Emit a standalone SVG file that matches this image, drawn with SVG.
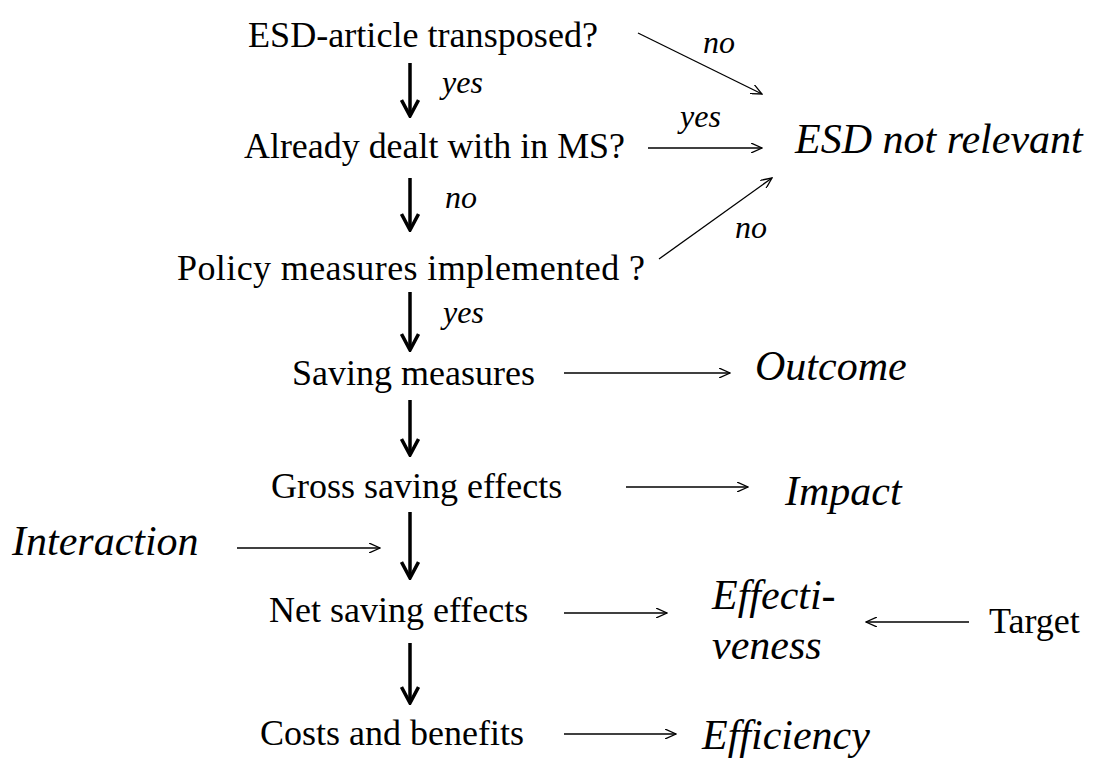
<svg xmlns="http://www.w3.org/2000/svg" width="1095" height="758" viewBox="0 0 1095 758">
<defs>
<style>
.t{font-family:"Liberation Serif","Times New Roman",serif;font-size:36px;fill:#000}
.l{font-family:"Liberation Serif","Times New Roman",serif;font-size:32px;font-style:italic;fill:#000}
.b{font-family:"Liberation Serif","Times New Roman",serif;font-size:42px;font-style:italic;fill:#000}
.thick{stroke:#000;stroke-width:3.5;fill:none}
.thin{stroke:#000;stroke-width:1.3;fill:none}
</style>
<marker id="open" viewBox="0 0 12 10" refX="11" refY="5" markerWidth="12" markerHeight="10" markerUnits="userSpaceOnUse" orient="auto">
<path d="M0,0 L11,5 L0,10" fill="none" stroke="#000" stroke-width="1.3"/>
</marker>
<marker id="bold" viewBox="0 0 20 22" refX="10" refY="20" markerWidth="20" markerHeight="22" markerUnits="userSpaceOnUse" orient="0">
<path d="M1.5,4 L10,20 L18.5,4" fill="none" stroke="#000" stroke-width="3.5" stroke-linejoin="miter"/>
</marker>
</defs>
<g id="connectors">
<line class="thick" x1="410" y1="63" x2="410" y2="116" marker-end="url(#bold)"/>
<line class="thick" x1="410" y1="178" x2="410" y2="230" marker-end="url(#bold)"/>
<line class="thick" x1="410" y1="292" x2="410" y2="350" marker-end="url(#bold)"/>
<line class="thick" x1="410" y1="400" x2="410" y2="455" marker-end="url(#bold)"/>
<line class="thick" x1="410" y1="512" x2="410" y2="578" marker-end="url(#bold)"/>
<line class="thick" x1="410" y1="643" x2="410" y2="703" marker-end="url(#bold)"/>
<line class="thin" x1="638" y1="33" x2="762" y2="94" marker-end="url(#open)"/>
<line class="thin" x1="648" y1="148" x2="762" y2="148" marker-end="url(#open)"/>
<line class="thin" x1="659" y1="259" x2="772" y2="178" marker-end="url(#open)"/>
<line class="thin" x1="564" y1="373" x2="730" y2="373" marker-end="url(#open)"/>
<line class="thin" x1="626" y1="487" x2="748" y2="487" marker-end="url(#open)"/>
<line class="thin" x1="237" y1="548" x2="380" y2="548" marker-end="url(#open)"/>
<line class="thin" x1="564" y1="613" x2="667" y2="613" marker-end="url(#open)"/>
<line class="thin" x1="969" y1="622" x2="866" y2="622" marker-end="url(#open)"/>
<line class="thin" x1="564" y1="734" x2="676" y2="734" marker-end="url(#open)"/>
<text class="l" x="442" y="93">yes</text>
<text class="l" x="445" y="208">no</text>
<text class="l" x="443" y="323">yes</text>
<text class="l" x="703" y="53">no</text>
<text class="l" x="680" y="127">yes</text>
<text class="l" x="735" y="238">no</text>
</g>
<g id="n-esd-article"><text class="t" x="248" y="47" textLength="350" lengthAdjust="spacingAndGlyphs">ESD-article transposed?</text></g>
<g id="n-already"><text class="t" x="244" y="158" textLength="381" lengthAdjust="spacingAndGlyphs">Already dealt with in MS?</text></g>
<g id="n-policy"><text class="t" x="177" y="280" textLength="468" lengthAdjust="spacing">Policy measures implemented ?</text></g>
<g id="n-saving"><text class="t" x="292" y="385">Saving measures</text></g>
<g id="n-gross"><text class="t" x="271" y="498">Gross saving effects</text></g>
<g id="n-net"><text class="t" x="269" y="622">Net saving effects</text></g>
<g id="n-costs"><text class="t" x="260" y="745">Costs and benefits</text></g>
<g id="n-not-relevant"><text class="b" x="795" y="153">ESD not relevant</text></g>
<g id="n-outcome"><text class="b" x="755" y="380">Outcome</text></g>
<g id="n-impact"><text class="b" x="785" y="505">Impact</text></g>
<g id="n-effectiveness"><text class="b" x="712" y="609">Effecti-</text><text class="b" x="712" y="659">veness</text></g>
<g id="n-efficiency"><text class="b" x="702" y="749">Efficiency</text></g>
<g id="n-interaction"><text class="b" x="12" y="555">Interaction</text></g>
<g id="n-target"><text class="t" x="989" y="633">Target</text></g>
</svg>
